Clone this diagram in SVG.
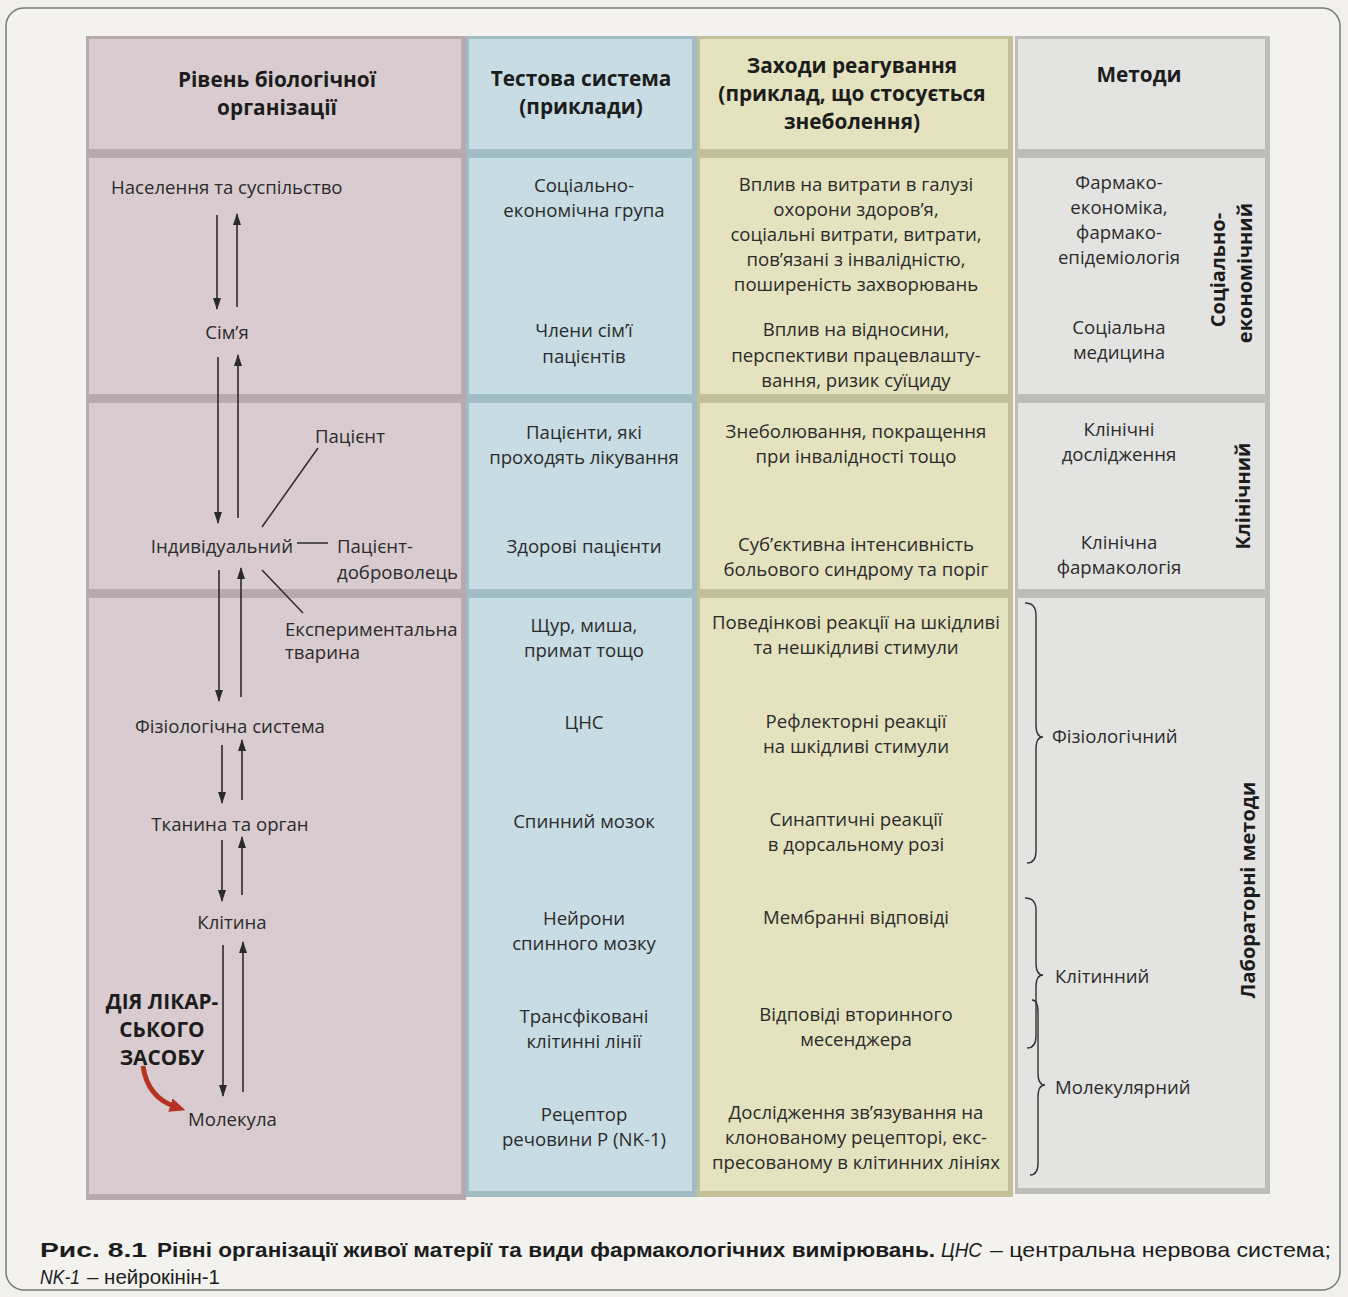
<svg xmlns="http://www.w3.org/2000/svg" width="1348" height="1297" viewBox="0 0 1348 1297">
<defs>
<style>
.pk{fill:#d8ccd0}.pkd{fill:#b7a9ae}
.bl{fill:#c8dce3}.bld{fill:#a2bcc6}
.ye{fill:#e4e2bf}.yed{fill:#c3bf98}
.gr{fill:#e3e3e1}.grd{fill:#bdbdbb}
.t{font-family:"Open Sans","Noto Sans",sans-serif;font-size:18.6px;fill:#2b2b2b;text-anchor:middle}
.tl{font-family:"Open Sans","Noto Sans",sans-serif;font-size:18.6px;fill:#2b2b2b;text-anchor:start}
.h{font-family:"Open Sans","Noto Sans",sans-serif;font-size:20.8px;font-weight:bold;fill:#1c1c1c;text-anchor:middle}
.v{font-family:"Open Sans","Noto Sans",sans-serif;font-size:20px;font-weight:bold;fill:#1c1c1c;text-anchor:middle}
.cap{font-family:"Liberation Sans Narrow","Liberation Sans",sans-serif;font-size:21px;fill:#1c1c1c}
.ln{stroke:#2b2b2b;stroke-width:1.5;fill:none}
.ar{stroke:#2b2b2b;stroke-width:1.6;fill:none;marker-end:url(#ah)}
.br{stroke:#333;stroke-width:1.4;fill:none}
</style>
<marker id="ah" viewBox="0 0 12 8" refX="11" refY="4" markerWidth="12" markerHeight="8" markerUnits="userSpaceOnUse" orient="auto">
<path d="M0,0 L12,4 L0,8 Z" fill="#2b2b2b"/>
</marker>
<marker id="rh" viewBox="0 0 16 14" refX="6" refY="7" markerWidth="16" markerHeight="14" markerUnits="userSpaceOnUse" orient="auto">
<path d="M0,0 L16,7 L0,14 Z" fill="#b83224"/>
</marker>
</defs>
<rect x="0" y="0" width="1348" height="1297" fill="#f1f0ed"/>
<rect x="6" y="8" width="1334" height="1282" rx="18" fill="#f3f2ef" stroke="#7a7a7a" stroke-width="1.5"/>

<g id="cells">
<rect class="pkd" x="86" y="36" width="380" height="119"/><rect class="pk" x="89" y="39" width="372" height="110"/>
<rect class="pkd" x="86" y="155" width="380" height="245"/><rect class="pk" x="89" y="158" width="372" height="236"/>
<rect class="pkd" x="86" y="400" width="380" height="195"/><rect class="pk" x="89" y="403" width="372" height="186"/>
<rect class="pkd" x="86" y="595" width="380" height="605"/><rect class="pk" x="89" y="598" width="372" height="596"/>

<rect class="bld" x="466" y="36" width="231" height="119"/><rect class="bl" x="469" y="39" width="223" height="110"/>
<rect class="bld" x="466" y="155" width="231" height="245"/><rect class="bl" x="469" y="158" width="223" height="236"/>
<rect class="bld" x="466" y="400" width="231" height="195"/><rect class="bl" x="469" y="403" width="223" height="186"/>
<rect class="bld" x="466" y="595" width="231" height="602"/><rect class="bl" x="469" y="598" width="223" height="593"/>

<rect class="yed" x="697" y="36" width="316" height="119"/><rect class="ye" x="700" y="39" width="308" height="110"/>
<rect class="yed" x="697" y="155" width="316" height="245"/><rect class="ye" x="700" y="158" width="308" height="236"/>
<rect class="yed" x="697" y="400" width="316" height="195"/><rect class="ye" x="700" y="403" width="308" height="186"/>
<rect class="yed" x="697" y="595" width="316" height="602"/><rect class="ye" x="700" y="598" width="308" height="593"/>

<rect class="grd" x="1015" y="36" width="255" height="119"/><rect class="gr" x="1018" y="39" width="247" height="110"/>
<rect class="grd" x="1015" y="155" width="255" height="245"/><rect class="gr" x="1018" y="158" width="247" height="236"/>
<rect class="grd" x="1015" y="400" width="255" height="195"/><rect class="gr" x="1018" y="403" width="247" height="186"/>
<rect class="grd" x="1015" y="595" width="255" height="599"/><rect class="gr" x="1018" y="598" width="247" height="590"/>
</g>

<g id="headers">
<text class="h" x="277" y="87">Рівень біологічної</text>
<text class="h" x="277" y="115">організації</text>
<text class="h" x="581" y="86">Тестова система</text>
<text class="h" x="581" y="114">(приклади)</text>
<text class="h" x="852" y="73">Заходи реагування</text>
<text class="h" x="852" y="101">(приклад, що стосується</text>
<text class="h" x="852" y="129">знеболення)</text>
<text class="h" x="1139" y="82">Методи</text>
</g>

<g id="lvl-population"><text class="tl" x="111" y="194">Населення та суспільство</text></g>
<g id="lvl-family"><text class="t" x="227" y="339">Сім’я</text></g>
<g id="lvl-patient"><text class="tl" x="315" y="443">Пацієнт</text></g>
<g id="lvl-individual"><text class="t" x="293" y="553" style="text-anchor:end">Індивідуальний</text></g>
<g id="lvl-volunteer"><text class="tl" x="337" y="553">Пацієнт-</text><text class="tl" x="337" y="579">доброволець</text></g>
<g id="lvl-animal"><text class="tl" x="285" y="636">Експериментальна</text><text class="tl" x="285" y="659">тварина</text></g>
<g id="lvl-physio"><text class="t" x="230" y="733">Фізіологічна система</text></g>
<g id="lvl-tissue"><text class="t" x="230" y="831">Тканина та орган</text></g>
<g id="lvl-cell"><text class="t" x="232" y="929">Клітина</text></g>
<g id="drug-action"><text class="h" x="162" y="1009">ДІЯ ЛІКАР-</text><text class="h" x="162" y="1037">СЬКОГО</text><text class="h" x="162" y="1065">ЗАСОБУ</text></g>
<g id="lvl-molecule"><text class="tl" x="188" y="1126">Молекула</text></g>

<g id="test-systems">
<text class="t" x="584" y="192">Соціально-</text><text class="t" x="584" y="217">економічна група</text>
<text class="t" x="584" y="337">Члени сім’ї</text><text class="t" x="584" y="363">пацієнтів</text>
<text class="t" x="584" y="439">Пацієнти, які</text><text class="t" x="584" y="464">проходять лікування</text>
<text class="t" x="584" y="553">Здорові пацієнти</text>
<text class="t" x="584" y="632">Щур, миша,</text><text class="t" x="584" y="657">примат тощо</text>
<text class="t" x="584" y="729">ЦНС</text>
<text class="t" x="584" y="828">Спинний мозок</text>
<text class="t" x="584" y="925">Нейрони</text><text class="t" x="584" y="950">спинного мозку</text>
<text class="t" x="584" y="1023">Трансфіковані</text><text class="t" x="584" y="1048">клітинні лінії</text>
<text class="t" x="584" y="1121">Рецептор</text><text class="t" x="584" y="1146">речовини Р (NK-1)</text>
</g>

<g id="measures">
<text class="t" x="856" y="191">Вплив на витрати в галузі</text>
<text class="t" x="856" y="216">охорони здоров’я,</text>
<text class="t" x="856" y="241">соціальні витрати, витрати,</text>
<text class="t" x="856" y="266">пов’язані з інвалідністю,</text>
<text class="t" x="856" y="291">поширеність захворювань</text>
<text class="t" x="856" y="336">Вплив на відносини,</text>
<text class="t" x="856" y="362">перспективи працевлашту-</text>
<text class="t" x="856" y="387">вання, ризик суїциду</text>
<text class="t" x="856" y="438">Знеболювання, покращення</text>
<text class="t" x="856" y="463">при інвалідності тощо</text>
<text class="t" x="856" y="551">Суб’єктивна інтенсивність</text>
<text class="t" x="856" y="576">больового синдрому та поріг</text>
<text class="t" x="856" y="629">Поведінкові реакції на шкідливі</text>
<text class="t" x="856" y="654">та нешкідливі стимули</text>
<text class="t" x="856" y="728">Рефлекторні реакції</text>
<text class="t" x="856" y="753">на шкідливі стимули</text>
<text class="t" x="856" y="826">Синаптичні реакції</text>
<text class="t" x="856" y="851">в дорсальному розі</text>
<text class="t" x="856" y="924">Мембранні відповіді</text>
<text class="t" x="856" y="1021">Відповіді вторинного</text>
<text class="t" x="856" y="1046">месенджера</text>
<text class="t" x="856" y="1119">Дослідження зв’язування на</text>
<text class="t" x="856" y="1144">клонованому рецепторі, екс-</text>
<text class="t" x="856" y="1169">пресованому в клітинних лініях</text>
</g>

<g id="methods">
<text class="t" x="1119" y="189">Фармако-</text>
<text class="t" x="1119" y="214">економіка,</text>
<text class="t" x="1119" y="239">фармако-</text>
<text class="t" x="1119" y="264">епідеміологія</text>
<text class="t" x="1119" y="334">Соціальна</text>
<text class="t" x="1119" y="359">медицина</text>
<text class="t" x="1119" y="436">Клінічні</text>
<text class="t" x="1119" y="461">дослідження</text>
<text class="t" x="1119" y="549">Клінічна</text>
<text class="t" x="1119" y="574">фармакологія</text>
<text class="tl" x="1052" y="743">Фізіологічний</text>
<text class="tl" x="1055" y="983">Клітинний</text>
<text class="tl" x="1055" y="1094">Молекулярний</text>
<text class="v" transform="translate(1218,270) rotate(-90)" x="0" y="7">Соціально-</text>
<text class="v" transform="translate(1245,273) rotate(-90)" x="0" y="7">економічний</text>
<text class="v" transform="translate(1243,496) rotate(-90)" x="0" y="7">Клінічний</text>
<text class="v" transform="translate(1248,890) rotate(-90)" x="0" y="7">Лабораторні методи</text>
</g>

<g id="connectors">
<line class="ar" x1="217" y1="215" x2="217" y2="309"/>
<line class="ar" x1="237" y1="307" x2="237" y2="214"/>
<line class="ar" x1="218" y1="357" x2="218" y2="523"/>
<line class="ar" x1="238" y1="518" x2="238" y2="355"/>
<line class="ar" x1="219" y1="570" x2="219" y2="701"/>
<line class="ar" x1="241" y1="697" x2="241" y2="568"/>
<line class="ar" x1="222" y1="745" x2="222" y2="803"/>
<line class="ar" x1="242" y1="800" x2="242" y2="740"/>
<line class="ar" x1="222" y1="840" x2="222" y2="901"/>
<line class="ar" x1="242" y1="895" x2="242" y2="837"/>
<line class="ar" x1="223" y1="945" x2="223" y2="1096"/>
<line class="ar" x1="243" y1="1092" x2="243" y2="942"/>
<line class="ln" x1="262" y1="527" x2="318" y2="448"/>
<line class="ln" x1="297" y1="543" x2="328" y2="543"/>
<line class="ln" x1="262" y1="570" x2="303" y2="613"/>
<path d="M143,1066 C146,1088 158,1101 176,1107" stroke="#b83224" stroke-width="5" fill="none" marker-end="url(#rh)"/>
<path class="br" d="M1025,603 Q1036,603 1036,615 L1036,725 Q1036,737 1043,737 Q1036,737 1036,749 L1036,851 Q1036,863 1027,863"/>
<path class="br" d="M1025,898 Q1036,898 1036,910 L1036,963 Q1036,975 1043,975 Q1036,975 1036,987 L1036,1036 Q1036,1048 1027,1048"/>
<path class="br" d="M1032,1000 Q1038,1000 1038,1012 L1038,1073 Q1038,1085 1045,1085 Q1038,1085 1038,1097 L1038,1163 Q1038,1175 1030,1175"/>
</g>

<g id="caption">
<text class="cap" x="40" y="1257" font-weight="bold" textLength="107" lengthAdjust="spacingAndGlyphs">Рис. 8.1</text>
<text class="cap" x="157" y="1257" font-weight="bold" textLength="778" lengthAdjust="spacingAndGlyphs">Рівні організації живої матерії та види фармакологічних вимірювань.</text>
<text class="cap" x="941" y="1257" font-style="italic" textLength="41" lengthAdjust="spacingAndGlyphs">ЦНС</text>
<text class="cap" x="990" y="1257" textLength="341" lengthAdjust="spacingAndGlyphs">– центральна нервова система;</text>
<text class="cap" x="40" y="1284" font-style="italic" textLength="40" lengthAdjust="spacingAndGlyphs">NK-1</text>
<text class="cap" x="87" y="1284" textLength="133" lengthAdjust="spacingAndGlyphs">– нейрокінін-1</text>
</g>
</svg>
